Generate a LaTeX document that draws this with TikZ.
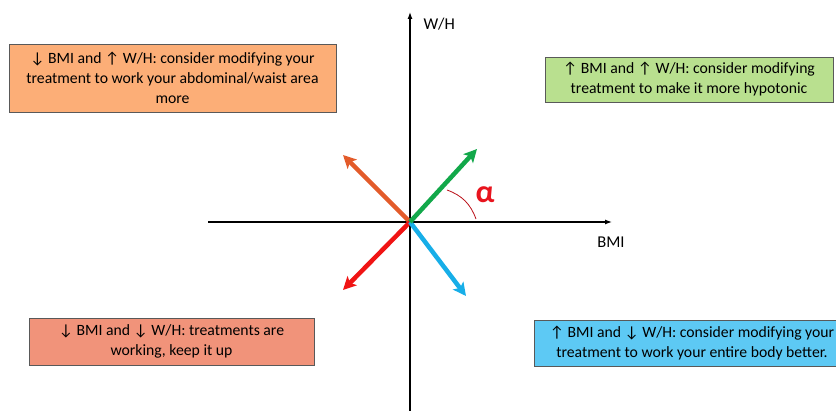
\documentclass[tikz,border=0pt]{standalone}
\usepackage{fontspec}
\setmainfont{Carlito}
\usetikzlibrary{arrows.meta}
\definecolor{boxorange}{HTML}{FCAE77}
\definecolor{boxgreen}{HTML}{B9E08F}
\definecolor{boxsalmon}{HTML}{F1937A}
\definecolor{boxblue}{HTML}{5DC9F4}
\definecolor{arrgreen}{HTML}{12A84A}
\definecolor{arrorange}{HTML}{E35B2A}
\definecolor{arrred}{HTML}{F01414}
\definecolor{arrblue}{HTML}{17AEE8}
\definecolor{alphared}{HTML}{E8141E}
\begin{document}
\begin{tikzpicture}[x=1pt,y=-1pt,
  infobox/.style={draw=black!65,line width=0.8pt,align=center,inner sep=0pt,
    font=\fontsize{15.7}{20}\selectfont},
  axisline/.style={line width=1.2pt,-{Latex[length=7pt,width=5pt]}},
  vec/.style={line width=4.5pt,-{Stealth[length=13pt,width=13pt,inset=3pt]}},
  lbl/.style={font=\fontsize{16.5}{18}\selectfont}]
\useasboundingbox (0,0) rectangle (836,411);
\coordinate (O) at (410,222);
\coordinate (ybot) at (410,411);
\coordinate (ytop) at (410,12);
\coordinate (xl) at (208,222);
\coordinate (xr) at (612,222);
\draw[axisline] (ybot) -- (ytop);
\draw[axisline] (xl) -- (xr);
\node[lbl,anchor=west] (wh) at (420,24) {W/H};
\node[lbl] (bmi) at (611,242) {BMI};
\coordinate (g) at (477,149);
\coordinate (o) at (343,155);
\coordinate (r) at (343,290);
\coordinate (b) at (466,296);
\draw[vec,arrorange] (O) -- (o);
\draw[vec,arrred] (O) -- (r);
\draw[vec,arrblue] (O) -- (b);
\draw[vec,arrgreen] (O) -- (g);
\coordinate (a1) at (447,190);
\coordinate (a2) at (476,219);
\draw[alphared!80!black,line width=0.8pt] (a1) to[bend left=25] (a2);
\node[text=alphared,font=\fontsize{32}{32}\selectfont\bfseries] (alpha) at (485,195) {α};
\node[infobox,fill=boxorange,minimum width=327pt,minimum height=68pt] (q2) at (172.5,78)
  {↓ BMI and ↑ W/H: consider modifying your\\treatment to work your abdominal/waist area\\more};
\node[infobox,fill=boxgreen,minimum width=288pt,minimum height=45pt] (q1) at (689,79.5)
  {↑ BMI and ↑ W/H: consider modifying\\treatment to make it more hypotonic};
\node[infobox,fill=boxsalmon,minimum width=285pt,minimum height=47pt] (q3) at (171.5,341.5)
  {↓ BMI and ↓ W/H: treatments are\\working, keep it up};
\node[infobox,fill=boxblue,minimum width=316pt,minimum height=46pt] (q4) at (692,343)
  {↑ BMI and ↓ W/H: consider modifying your\\treatment to work your entire body better.};
\end{tikzpicture}
\end{document}
